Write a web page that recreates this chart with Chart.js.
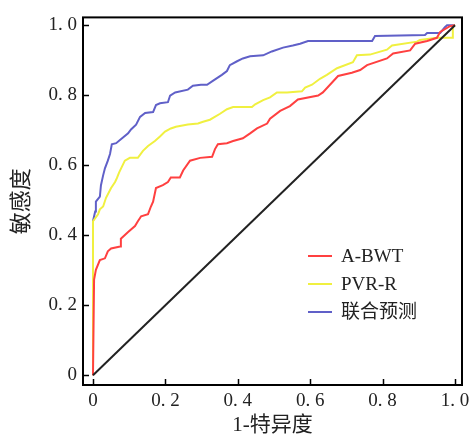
<!DOCTYPE html>
<html>
<head>
<meta charset="utf-8">
<script src="https://cdn.jsdelivr.net/npm/chart.js@4"></script>
<style>
  html, body { margin: 0; padding: 0; background: #fff; }
  #wrap { width: 476px; height: 441px; }
</style>
</head>
<body>
<div id="wrap"><canvas id="roc" width="476" height="441"></canvas></div>
<script>
// ROC curves (x = 1-特异度, y = 敏感度)
const seriesNames = ['A-BWT', 'PVR-R', '联合预测'];
const tickValues = [0, 0.2, 0.4, 0.6, 0.8, 1.0];

const abwtX = [0, 0.003, 0.008, 0.019, 0.033, 0.041, 0.050, 0.075, 0.077, 0.097, 0.116, 0.124, 0.133, 0.152, 0.160, 0.166, 0.174, 0.193, 0.207, 0.215, 0.240, 0.249, 0.268, 0.296, 0.329, 0.337, 0.345, 0.370, 0.387, 0.414, 0.434, 0.453, 0.481, 0.489, 0.517, 0.544, 0.566, 0.622, 0.635, 0.677, 0.715, 0.738, 0.757, 0.812, 0.829, 0.876, 0.890, 0.923, 0.950, 0.959, 0.986, 1];
const abwtY = [0, 0.273, 0.301, 0.329, 0.334, 0.354, 0.362, 0.368, 0.390, 0.409, 0.426, 0.440, 0.454, 0.460, 0.482, 0.496, 0.535, 0.543, 0.552, 0.565, 0.565, 0.585, 0.613, 0.621, 0.624, 0.646, 0.660, 0.663, 0.669, 0.677, 0.691, 0.705, 0.719, 0.733, 0.755, 0.769, 0.788, 0.799, 0.808, 0.855, 0.864, 0.872, 0.886, 0.905, 0.919, 0.928, 0.947, 0.955, 0.964, 0.981, 0.997, 1];

const pvrX = [0, 0, 0.014, 0.019, 0.028, 0.036, 0.050, 0.061, 0.066, 0.072, 0.088, 0.102, 0.124, 0.138, 0.152, 0.171, 0.185, 0.199, 0.215, 0.229, 0.262, 0.290, 0.304, 0.323, 0.351, 0.370, 0.387, 0.439, 0.448, 0.470, 0.489, 0.508, 0.536, 0.577, 0.586, 0.605, 0.627, 0.646, 0.674, 0.718, 0.729, 0.765, 0.812, 0.826, 0.895, 0.903, 0.950, 0.992, 0.994, 1];
const pvrY = [0, 0.440, 0.460, 0.474, 0.482, 0.507, 0.535, 0.552, 0.563, 0.579, 0.613, 0.621, 0.621, 0.641, 0.655, 0.669, 0.682, 0.696, 0.705, 0.710, 0.716, 0.719, 0.724, 0.730, 0.747, 0.760, 0.766, 0.766, 0.774, 0.786, 0.794, 0.808, 0.808, 0.811, 0.822, 0.830, 0.847, 0.858, 0.877, 0.894, 0.914, 0.916, 0.930, 0.942, 0.953, 0.958, 0.964, 0.964, 0.997, 1];

const combX = [0, 0, 0.006, 0.008, 0.019, 0.022, 0.028, 0.033, 0.041, 0.047, 0.052, 0.064, 0.077, 0.097, 0.105, 0.119, 0.130, 0.144, 0.166, 0.174, 0.185, 0.207, 0.213, 0.227, 0.262, 0.276, 0.298, 0.315, 0.331, 0.356, 0.370, 0.378, 0.398, 0.414, 0.434, 0.470, 0.494, 0.525, 0.552, 0.572, 0.594, 0.771, 0.779, 0.917, 0.923, 0.959, 0.972, 0.978, 1];
const combY = [0, 0.440, 0.468, 0.496, 0.510, 0.543, 0.571, 0.591, 0.613, 0.632, 0.660, 0.663, 0.674, 0.691, 0.702, 0.716, 0.738, 0.749, 0.752, 0.772, 0.777, 0.780, 0.799, 0.808, 0.816, 0.827, 0.830, 0.830, 0.841, 0.858, 0.869, 0.886, 0.897, 0.905, 0.911, 0.914, 0.925, 0.936, 0.942, 0.947, 0.955, 0.955, 0.969, 0.972, 0.978, 0.978, 0.994, 1.0, 1];

const refX = [0, 1];
const refY = [0, 1];

const seriesColors = ['#ff4040', '#f0f040', '#6060c8'];

function toPoints(xs, ys) {
    return xs.map((x, i) => ({ x: x, y: ys[i] }));
}

const serif = "'Liberation Serif', 'Noto Sans CJK SC', serif";

// box + inward ticks
const frame = {
    id: 'frame',
    afterDraw(chart) {
        const ctx = chart.ctx;
        const a = chart.chartArea;
        const xs = chart.scales.x, ys = chart.scales.y;
        ctx.save();
        ctx.strokeStyle = '#000';
        ctx.lineWidth = 2;
        ctx.strokeRect(a.left, a.top, a.right - a.left, a.bottom - a.top);
        ctx.lineWidth = 1.5;
        ctx.beginPath();
        tickValues.forEach(v => {
            const px = Math.round(xs.getPixelForValue(v)) + 0.5;
            ctx.moveTo(px, a.bottom);
            ctx.lineTo(px, a.bottom - 6);
            const py = Math.round(ys.getPixelForValue(v)) + 0.5;
            ctx.moveTo(a.left, py);
            ctx.lineTo(a.left + 6, py);
        });
        ctx.stroke();
        ctx.restore();
    }
};

// legend inside the plot
const innerLegend = {
    id: 'innerLegend',
    afterDraw(chart) {
        const ctx = chart.ctx;
        ctx.save();
        ctx.font = '19px ' + serif;
        ctx.textBaseline = 'middle';
        const rows = [256, 284, 312];
        seriesNames.forEach((name, i) => {
            ctx.strokeStyle = seriesColors[i];
            ctx.lineWidth = 2;
            ctx.beginPath();
            ctx.moveTo(308, rows[i]);
            ctx.lineTo(332, rows[i]);
            ctx.stroke();
            ctx.fillStyle = '#222';
            ctx.fillText(name, 341, rows[i] + 1);
        });
        ctx.restore();
    }
};

const lineStyle = {
    borderWidth: 2,
    pointRadius: 0,
    tension: 0,
    fill: false
};

new Chart(document.getElementById('roc'), {
    type: 'line',
    data: {
        datasets: [
            Object.assign({ label: 'ref', data: toPoints(refX, refY), borderColor: '#222' }, lineStyle),
            Object.assign({ label: seriesNames[0], data: toPoints(abwtX, abwtY), borderColor: seriesColors[0] }, lineStyle),
            Object.assign({ label: seriesNames[1], data: toPoints(pvrX, pvrY), borderColor: seriesColors[1] }, lineStyle),
            Object.assign({ label: seriesNames[2], data: toPoints(combX, combY), borderColor: seriesColors[2] }, lineStyle)
        ]
    },
    options: {
        responsive: false,
        animation: false,
        layout: { padding: { top: 8, right: 14, left: 0, bottom: 0 } },
        plugins: {
            legend: { display: false },
            tooltip: { enabled: false }
        },
        scales: {
            x: {
                type: 'linear',
                min: -0.0276,
                max: 1.0193,
                afterBuildTicks: s => { s.ticks = tickValues.map(v => ({ value: v })); },
                afterFit: s => { s.height = 56; },
                grid: { display: false, drawTicks: false },
                border: { display: false },
                ticks: {
                    padding: 5,
                    color: '#222',
                    font: { family: serif, size: 19 },
                    maxRotation: 0,
                    callback: v => v === 0 ? '0' : v.toFixed(1).replace('.', '. ')
                },
                title: {
                    display: true,
                    text: '1-特异度',
                    color: '#222',
                    font: { family: serif, size: 21 },
                    padding: { top: 0, bottom: 3 }
                }
            },
            y: {
                type: 'linear',
                min: -0.0279,
                max: 1.0223,
                afterBuildTicks: s => { s.ticks = tickValues.map(v => ({ value: v })); },
                afterFit: s => { s.width = 83; },
                grid: { display: false, drawTicks: false },
                border: { display: false },
                ticks: {
                    padding: 6,
                    color: '#222',
                    font: { family: serif, size: 19 },
                    callback: v => v === 0 ? '0' : v.toFixed(1).replace('.', '. ')
                },
                title: {
                    display: true,
                    text: '敏感度',
                    color: '#222',
                    font: { family: serif, size: 22 },
                    padding: { top: 9, bottom: 0 }
                }
            }
        }
    },
    plugins: [frame, innerLegend]
});
</script>
</body>
</html>
